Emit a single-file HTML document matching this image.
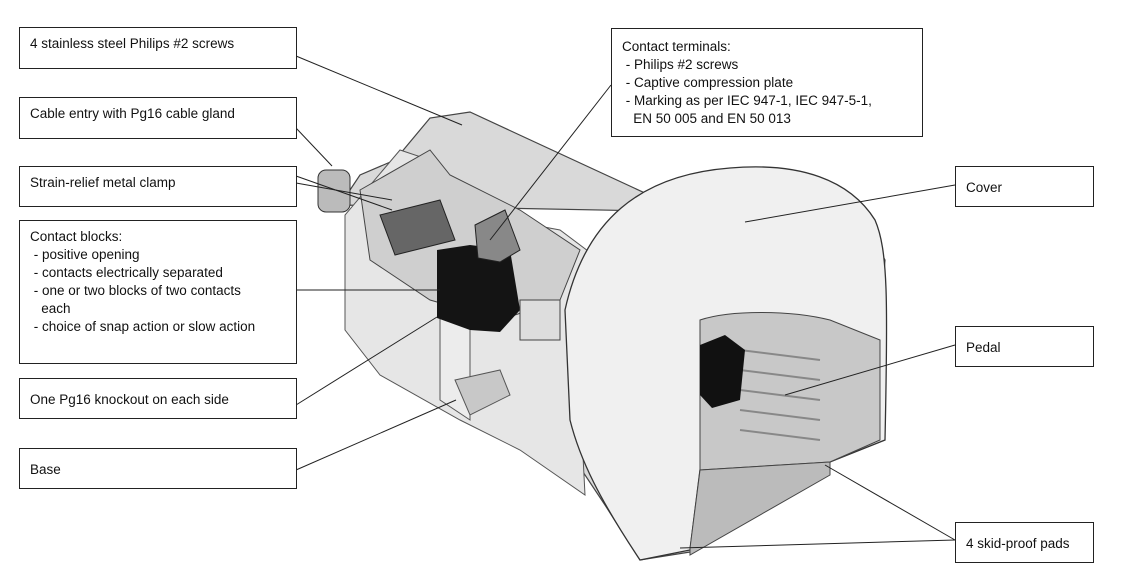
<!DOCTYPE html>
<html><head><meta charset="utf-8"><style>
body{margin:0;background:#fff;width:1147px;height:587px;overflow:hidden;position:relative;font-family:"Liberation Sans",sans-serif;}
.b{position:absolute;border:1px solid #222;background:#fff;font-size:13.5px;color:#111;line-height:18px;box-sizing:border-box;padding:7px 10px;}
svg{position:absolute;left:0;top:0}
</style></head><body>
<svg width="1147" height="587">
<!-- base body -->
<polygon points="340,205 360,175 395,160 430,118 470,112 660,200 640,245 600,255 580,300 575,460 605,505 640,560 690,552 830,462 870,440 885,260 860,215" fill="#d9d9d9" stroke="#444" stroke-width="1.2"/>
<polygon points="345,215 345,330 380,375 460,420 520,450 585,495 575,300 600,260 560,230 480,215 430,160 400,150" fill="#e6e6e6" stroke="#555"/>
<polygon points="360,190 430,150 450,175 520,210 580,250 560,300 500,320 430,300 370,260" fill="#cfcfcf" stroke="#444"/>
<polygon points="440,290 470,285 470,420 440,400" fill="#ececec" stroke="#555"/>
<polygon points="455,380 500,370 510,395 470,415" fill="#c8c8c8" stroke="#555"/>
<!-- cable gland -->
<rect x="318" y="170" width="32" height="42" rx="8" fill="#bbb" stroke="#333"/>
<!-- strain relief -->
<polygon points="380,215 440,200 455,240 395,255" fill="#666" stroke="#222"/>
<!-- contact block -->
<polygon points="437,250 470,245 510,250 520,310 500,332 470,330 437,318" fill="#141414"/>
<polygon points="475,225 505,210 520,250 500,262 478,258" fill="#888" stroke="#222"/>
<rect x="520" y="300" width="40" height="40" fill="#ddd" stroke="#444"/>
<!-- cover -->
<path d="M565,310 C585,220 640,175 730,168 C800,162 850,180 875,220 C888,250 888,300 885,440 L830,462 L700,470 L690,550 L640,560 C600,500 580,460 570,420 Z" fill="#f0f0f0" stroke="#333" stroke-width="1.3"/>
<!-- pedal cavity -->
<path d="M700,320 C730,310 790,310 830,320 L880,340 L880,440 L830,462 L700,470 Z" fill="#c8c8c8" stroke="#444"/>
<g stroke="#888" stroke-width="2">
<line x1="740" y1="350" x2="820" y2="360"/><line x1="740" y1="370" x2="820" y2="380"/><line x1="740" y1="390" x2="820" y2="400"/><line x1="740" y1="410" x2="820" y2="420"/><line x1="740" y1="430" x2="820" y2="440"/>
</g>
<polygon points="700,345 725,335 745,350 740,400 712,408 700,395" fill="#111"/>
<polygon points="700,470 830,462 830,475 690,555 690,548" fill="#bbb" stroke="#444"/>
<!-- leaders -->
<g stroke="#222" stroke-width="1" fill="none">
<line x1="296" y1="56" x2="462" y2="125"/>
<line x1="296" y1="128" x2="332" y2="166"/>
<line x1="296" y1="176" x2="392" y2="210"/>
<line x1="296" y1="183" x2="392" y2="200"/>
<line x1="296" y1="290" x2="440" y2="290"/>
<line x1="296" y1="405" x2="437" y2="317"/>
<line x1="296" y1="470" x2="456" y2="400"/>
<line x1="611" y1="85" x2="490" y2="240"/>
<line x1="955" y1="185" x2="745" y2="222"/>
<line x1="955" y1="345" x2="785" y2="395"/>
<line x1="955" y1="540" x2="825" y2="465"/>
<line x1="955" y1="540" x2="680" y2="548"/>
</g>
</svg>
<div class="b" style="left:19px;top:27px;width:278px;height:42px">4 stainless steel Philips #2 screws</div>
<div class="b" style="left:19px;top:97px;width:278px;height:42px">Cable entry with Pg16 cable gland</div>
<div class="b" style="left:19px;top:166px;width:278px;height:41px">Strain-relief metal clamp</div>
<div class="b" style="left:19px;top:220px;width:278px;height:144px">Contact blocks:<br>&nbsp;- positive opening<br>&nbsp;- contacts electrically separated<br>&nbsp;- one or two blocks of two contacts<br>&nbsp;&nbsp;&nbsp;each<br>&nbsp;- choice of snap action or slow action</div>
<div class="b" style="left:19px;top:378px;width:278px;height:41px;padding-top:12px">One Pg16 knockout on each side</div>
<div class="b" style="left:19px;top:448px;width:278px;height:41px;padding-top:12px">Base</div>
<div class="b" style="left:611px;top:28px;width:312px;height:109px;padding-top:9px">Contact terminals:<br>&nbsp;- Philips #2 screws<br>&nbsp;- Captive compression plate<br>&nbsp;- Marking as per IEC 947-1, IEC 947-5-1,<br>&nbsp;&nbsp;&nbsp;EN 50 005 and EN 50 013</div>
<div class="b" style="left:955px;top:166px;width:139px;height:41px;padding-top:12px">Cover</div>
<div class="b" style="left:955px;top:326px;width:139px;height:41px;padding-top:12px">Pedal</div>
<div class="b" style="left:955px;top:522px;width:139px;height:41px;padding-top:12px">4 skid-proof pads</div>
</body></html>
